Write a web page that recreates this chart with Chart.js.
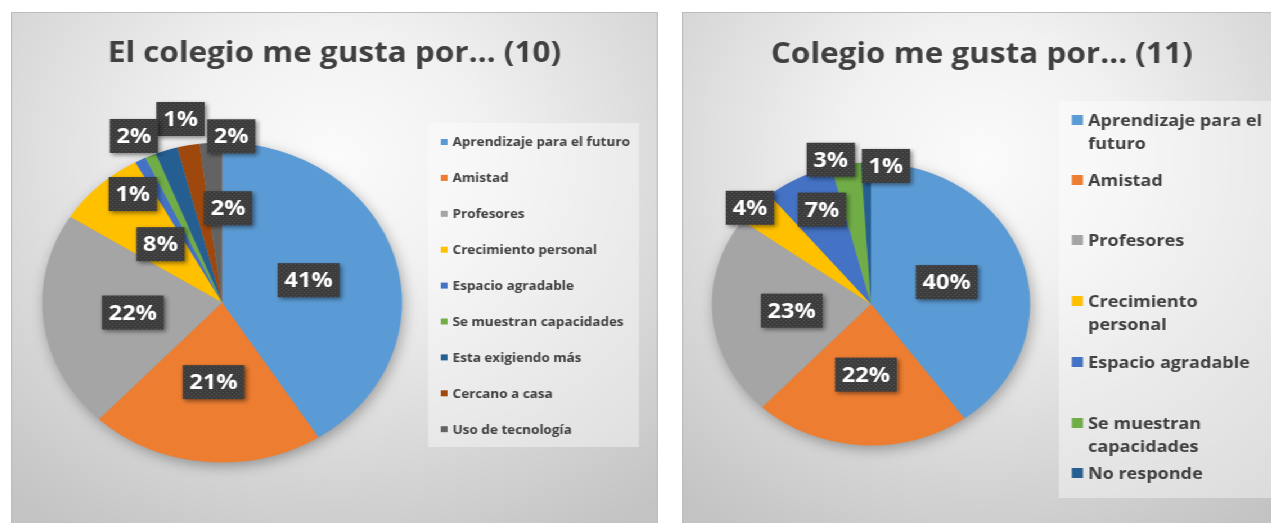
<!DOCTYPE html>
<html>
<head>
<meta charset="utf-8">
<script src="https://cdn.jsdelivr.net/npm/chart.js@4.4.1/dist/chart.umd.min.js"></script>
<style>
  html, body { margin: 0; padding: 0; background: #ffffff; width: 1271px; height: 523px; overflow: hidden; position: relative; }
  .panel {
    position: absolute; top: 12px; height: 520px;
    transform-origin: 0 0; transform: scaleX(1.125);
    background: radial-gradient(ellipse 80% 85% at 50% 28%, #fbfbfb 0%, #f1f1f1 30%, #d8d8d8 68%, #c3c3c3 100%);
    box-shadow: inset 0 0 0 1px #bdbdbd;
    overflow: hidden;
  }
  #p1 { left: 11px; width: 575px; }
  #p2 { left: 682px; width: 533px; }
  canvas { position: absolute; left: 0; top: 0; display: block; }
</style>
</head>
<body>
<div class="panel" id="p1"><canvas id="c1" width="575" height="511" style="width:575px;height:511px"></canvas></div>
<div class="panel" id="p2"><canvas id="c2" width="533" height="511" style="width:533px;height:511px"></canvas></div>
<script>
// ---------- data ----------
const title10 = 'El colegio me gusta por... (10)';
const categories10 = ['Aprendizaje para el futuro', 'Amistad', 'Profesores', 'Crecimiento personal',
  'Espacio agradable', 'Se muestran capacidades', 'Esta exigiendo más', 'Cercano a casa', 'Uso de tecnología'];
const values10 = [41, 21, 22, 8, 1, 1, 2, 2, 2];

const title11 = 'Colegio me gusta por... (11)';
const categories11 = ['Aprendizaje para el futuro', 'Amistad', 'Profesores', 'Crecimiento personal',
  'Espacio agradable', 'Se muestran capacidades', 'No responde'];
const values11 = [40, 22, 23, 4, 7, 3, 1];

// ---------- styles ----------
const colors10 = ['#5B9BD5', '#ED7D31', '#A5A5A5', '#FFC000', '#4472C4', '#70AD47', '#255E91', '#9E480E', '#636363'];
const colors11 = ['#5B9BD5', '#ED7D31', '#A5A5A5', '#FFC000', '#4472C4', '#70AD47', '#255E91'];
const FONT = '"Open Sans", "Noto Sans", sans-serif';
const TEXT_COLOR = '#404040';

// ---------- layout (unscaled panel coordinates) ----------
const layout10 = {
  padding: { left: 27.6, right: 227.4, top: 130.5, bottom: 60.5 },
  titleBaseline: 50,
  // label placement overrides for small slices: [angle from top in degrees, radius fraction]
  place: { 4: [323.8, 0.84], 5: [348.6, 1.17], 6: [334.8, 1.15], 7: [2.8, 1.04], 8: [3.2, 0.59] },
  legend: { box: [370.7, 111, 187.5, 324], markerX: 382, marker: 6, textX: 392.5,
            font: 'bold 12px ' + FONT, capHalf: 4.3, firstRow: 130, step: 35.9, rows: null,
            maxWidth: 1000, lineH: 17 }
};
const layout11 = {
  padding: { left: 26.5, right: 223.5, top: 150.5, bottom: 77.5 },
  titleBaseline: 51,
  place: { 3: [311.8, 1.02], 4: [335.2, 0.735], 5: [346.1, 1.05], 6: [5.5, 0.98] },
  legend: { box: [335, 89, 193, 397], markerX: 346.5, marker: 10, textX: 361,
            font: 'bold 16px ' + FONT, capHalf: 5.7, firstRow: 0, step: 0,
            rows: [108, 168, 228, 289, 350, 411, 461], maxWidth: 160, lineH: 23.2 }
};

// ---------- helpers ----------
const labelPattern = (() => {
  const c = document.createElement('canvas'); c.width = 4; c.height = 4;
  const g = c.getContext('2d');
  g.fillStyle = '#3c3c3c'; g.fillRect(0, 0, 4, 4);
  g.fillStyle = '#565656'; g.fillRect(0, 0, 1, 1); g.fillRect(2, 2, 1, 1);
  return c;
})();

function wrapText(ctx, text, maxWidth) {
  const words = text.split(' ');
  const lines = [];
  let cur = '';
  words.forEach(w => {
    const test = cur ? cur + ' ' + w : w;
    if (cur && ctx.measureText(test).width > maxWidth) { lines.push(cur); cur = w; }
    else cur = test;
  });
  if (cur) lines.push(cur);
  return lines;
}

function makePlugins(title, lay) {
  const titlePlugin = {
    id: 'panelTitle',
    afterDraw(chart) {
      const ctx = chart.ctx;
      ctx.save();
      ctx.font = 'bold 28px ' + FONT;
      ctx.fillStyle = TEXT_COLOR;
      ctx.textAlign = 'center';
      ctx.textBaseline = 'alphabetic';
      ctx.fillText(title, chart.width / 2, lay.titleBaseline);
      ctx.restore();
    }
  };
  const shadowPlugin = {
    id: 'pieShadow',
    beforeDatasetsDraw(chart) {
      const arc = chart.getDatasetMeta(0).data[0];
      const p = arc.getProps(['x', 'y', 'outerRadius'], true);
      const ctx = chart.ctx;
      ctx.save();
      ctx.shadowColor = 'rgba(0,0,0,0.35)';
      ctx.shadowBlur = 14;
      ctx.shadowOffsetX = 2;
      ctx.shadowOffsetY = 4;
      ctx.fillStyle = '#9a9a9a';
      ctx.beginPath();
      ctx.arc(p.x, p.y, p.outerRadius - 1, 0, Math.PI * 2);
      ctx.fill();
      ctx.restore();
    }
  };
  const labelsPlugin = {
    id: 'sliceLabels',
    afterDatasetsDraw(chart) {
      const ctx = chart.ctx;
      const meta = chart.getDatasetMeta(0);
      const vals = chart.data.datasets[0].data;
      const total = vals.reduce((a, b) => a + b, 0);
      const pattern = ctx.createPattern(labelPattern, 'repeat');
      ctx.save();
      ctx.font = 'bold 21px ' + FONT;
      meta.data.forEach((arc, i) => {
        const p = arc.getProps(['x', 'y', 'outerRadius', 'startAngle', 'endAngle'], true);
        const ov = lay.place[i];
        let a, f;
        if (ov) { a = ov[0] * Math.PI / 180 - Math.PI / 2; f = ov[1]; }
        else { a = (p.startAngle + p.endAngle) / 2; f = 0.5; }
        const cx = p.x + Math.cos(a) * f * p.outerRadius;
        const cy = p.y + Math.sin(a) * f * p.outerRadius;
        const txt = Math.round(vals[i] / total * 100) + '%';
        const w = ctx.measureText(txt).width + 12;
        const h = 34;
        ctx.save();
        ctx.shadowColor = 'rgba(0,0,0,0.45)';
        ctx.shadowBlur = 4;
        ctx.shadowOffsetX = 2;
        ctx.shadowOffsetY = 2;
        ctx.fillStyle = pattern;
        ctx.fillRect(cx - w / 2, cy - h / 2, w, h);
        ctx.restore();
        ctx.fillStyle = '#ffffff';
        ctx.textAlign = 'center';
        ctx.textBaseline = 'middle';
        ctx.fillText(txt, cx, cy + 1);
      });
      ctx.restore();
    }
  };
  const legendPlugin = {
    id: 'sideLegend',
    afterDraw(chart) {
      const L = lay.legend;
      const ctx = chart.ctx;
      const labels = chart.data.labels;
      const cols = chart.data.datasets[0].backgroundColor;
      ctx.save();
      ctx.fillStyle = 'rgba(255,255,255,0.4)';
      ctx.fillRect(L.box[0], L.box[1], L.box[2], L.box[3]);
      ctx.font = L.font;
      ctx.textAlign = 'left';
      ctx.textBaseline = 'alphabetic';
      labels.forEach((lab, i) => {
        const rowY = L.rows ? L.rows[i] : L.firstRow + i * L.step;
        ctx.fillStyle = cols[i];
        ctx.fillRect(L.markerX, rowY - L.marker / 2, L.marker, L.marker);
        ctx.fillStyle = TEXT_COLOR;
        wrapText(ctx, lab, L.maxWidth).forEach((ln, k) => {
          ctx.fillText(ln, L.textX, rowY + L.capHalf + k * L.lineH);
        });
      });
      ctx.restore();
    }
  };
  return [shadowPlugin, labelsPlugin, legendPlugin, titlePlugin];
}

function makeChart(id, cats, vals, colors, title, lay) {
  return new Chart(document.getElementById(id), {
    type: 'pie',
    data: {
      labels: cats,
      datasets: [{ data: vals, backgroundColor: colors, borderWidth: 0 }]
    },
    options: {
      responsive: false,
      animation: false,
      devicePixelRatio: 1,
      layout: { padding: lay.padding },
      plugins: { legend: { display: false }, title: { display: false }, tooltip: { enabled: false } }
    },
    plugins: makePlugins(title, lay)
  });
}

makeChart('c1', categories10, values10, colors10, title10, layout10);
makeChart('c2', categories11, values11, colors11, title11, layout11);
</script>
</body>
</html>
